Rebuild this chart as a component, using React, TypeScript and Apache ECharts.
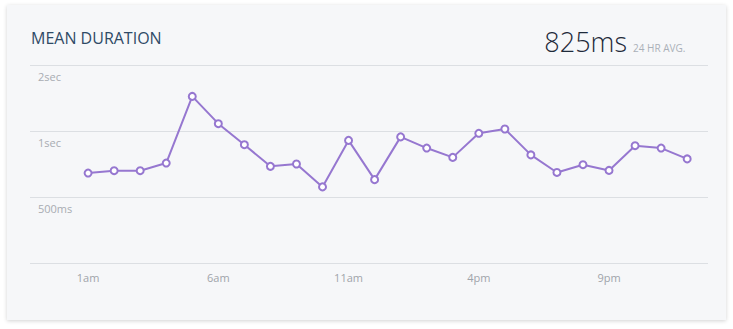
import React, { useEffect, useRef } from "react";
import * as echarts from "echarts";

const hourLabels = [
  "1am", "2am", "3am", "4am", "5am", "6am", "7am", "8am", "9am", "10am", "11am", "12pm",
  "1pm", "2pm", "3pm", "4pm", "5pm", "6pm", "7pm", "8pm", "9pm", "10pm", "11pm", "12am",
];
const durationsMs = [
  643, 659, 659, 714, 1438, 1080, 866, 690, 707, 556, 906, 600,
  940, 836, 758, 976, 1021, 778, 647, 702, 661, 857, 836, 746,
];
const shownHourTicks = [1, 6, 11, 16, 21];
const yTicksSec = [0.25, 0.5, 1, 2];
const titleText = "MEAN DURATION";
const avgText = "825ms";
const avgCaption = "24 HR AVG.";

const FONT = "'Open Sans', 'Noto Sans', sans-serif";

export default function App() {
  const ref = useRef<HTMLDivElement>(null);
  useEffect(() => {
    if (!ref.current) return;
    const chart = echarts.init(ref.current, null, { renderer: "svg" });
    chart.setOption({
      animation: false,
      textStyle: { fontFamily: FONT },
      grid: { left: 30, right: 25, top: 65, bottom: 66 },
      graphic: [
        {
          type: "text",
          left: 31,
          top: 30,
          style: { text: titleText, font: `400 16px ${FONT}`, fill: "#2f4a66" },
        },
        {
          type: "text",
          x: 627,
          y: 41,
          style: {
            text: avgText,
            font: `300 27px ${FONT}`,
            fill: "#1e2a3a",
            align: "right",
            verticalAlign: "middle",
          },
        },
        {
          type: "text",
          x: 633,
          y: 48,
          style: {
            text: avgCaption,
            font: `400 10px ${FONT}`,
            fill: "#aab0b8",
            align: "left",
            verticalAlign: "middle",
          },
        },
      ],
      xAxis: {
        type: "value",
        min: -1.23,
        max: 24.8,
        axisLine: { show: false },
        axisTick: { show: false },
        splitLine: { show: false },
        axisLabel: {
          customValues: shownHourTicks,
          formatter: (v: number) => hourLabels[Math.round(v) - 1] ?? "",
          color: "#a0a4aa",
          fontSize: 11,
          margin: 9,
          fontFamily: FONT,
        },
      },
      yAxis: {
        type: "log",
        logBase: 2,
        min: yTicksSec[0],
        max: yTicksSec[yTicksSec.length - 1],
        splitNumber: 3,
        axisLine: { show: false },
        axisTick: { show: false },
        splitLine: { show: true, lineStyle: { color: "#dcdfe3", width: 1 } },
        axisLabel: {
          inside: true,
          margin: 8,
          verticalAlign: "top",
          padding: [6, 0, 0, 0],
          color: "#a8acb2",
          fontSize: 11,
          fontFamily: FONT,
          formatter: (v: number) => {
            if (Math.abs(v - yTicksSec[0]) < 1e-6) return "";
            return v >= 1 ? `${Math.round(v)}sec` : `${Math.round(v * 1000)}ms`;
          },
        },
      },
      series: [
        {
          type: "line",
          data: durationsMs.map((ms, i) => [i + 1, ms / 1000]),
          symbol: "emptyCircle",
          symbolSize: 7,
          lineStyle: { color: "#9677d0", width: 2 },
          itemStyle: { color: "#9677d0", borderWidth: 2 },
        },
      ],
    });
    return () => chart.dispose();
  }, []);

  return (
    <div style={{ position: "fixed", left: 0, top: 0, width: 733, height: 329, background: "#fff" }}>
      <div
        style={{
          position: "absolute",
          left: 7,
          top: 5,
          width: 719,
          height: 315,
          background: "#f6f7f9",
          boxShadow: "0 1px 4px rgba(0,0,0,0.18)",
        }}
      />
      <div ref={ref} style={{ position: "absolute", left: 0, top: 0, width: 733, height: 329 }} />
    </div>
  );
}
